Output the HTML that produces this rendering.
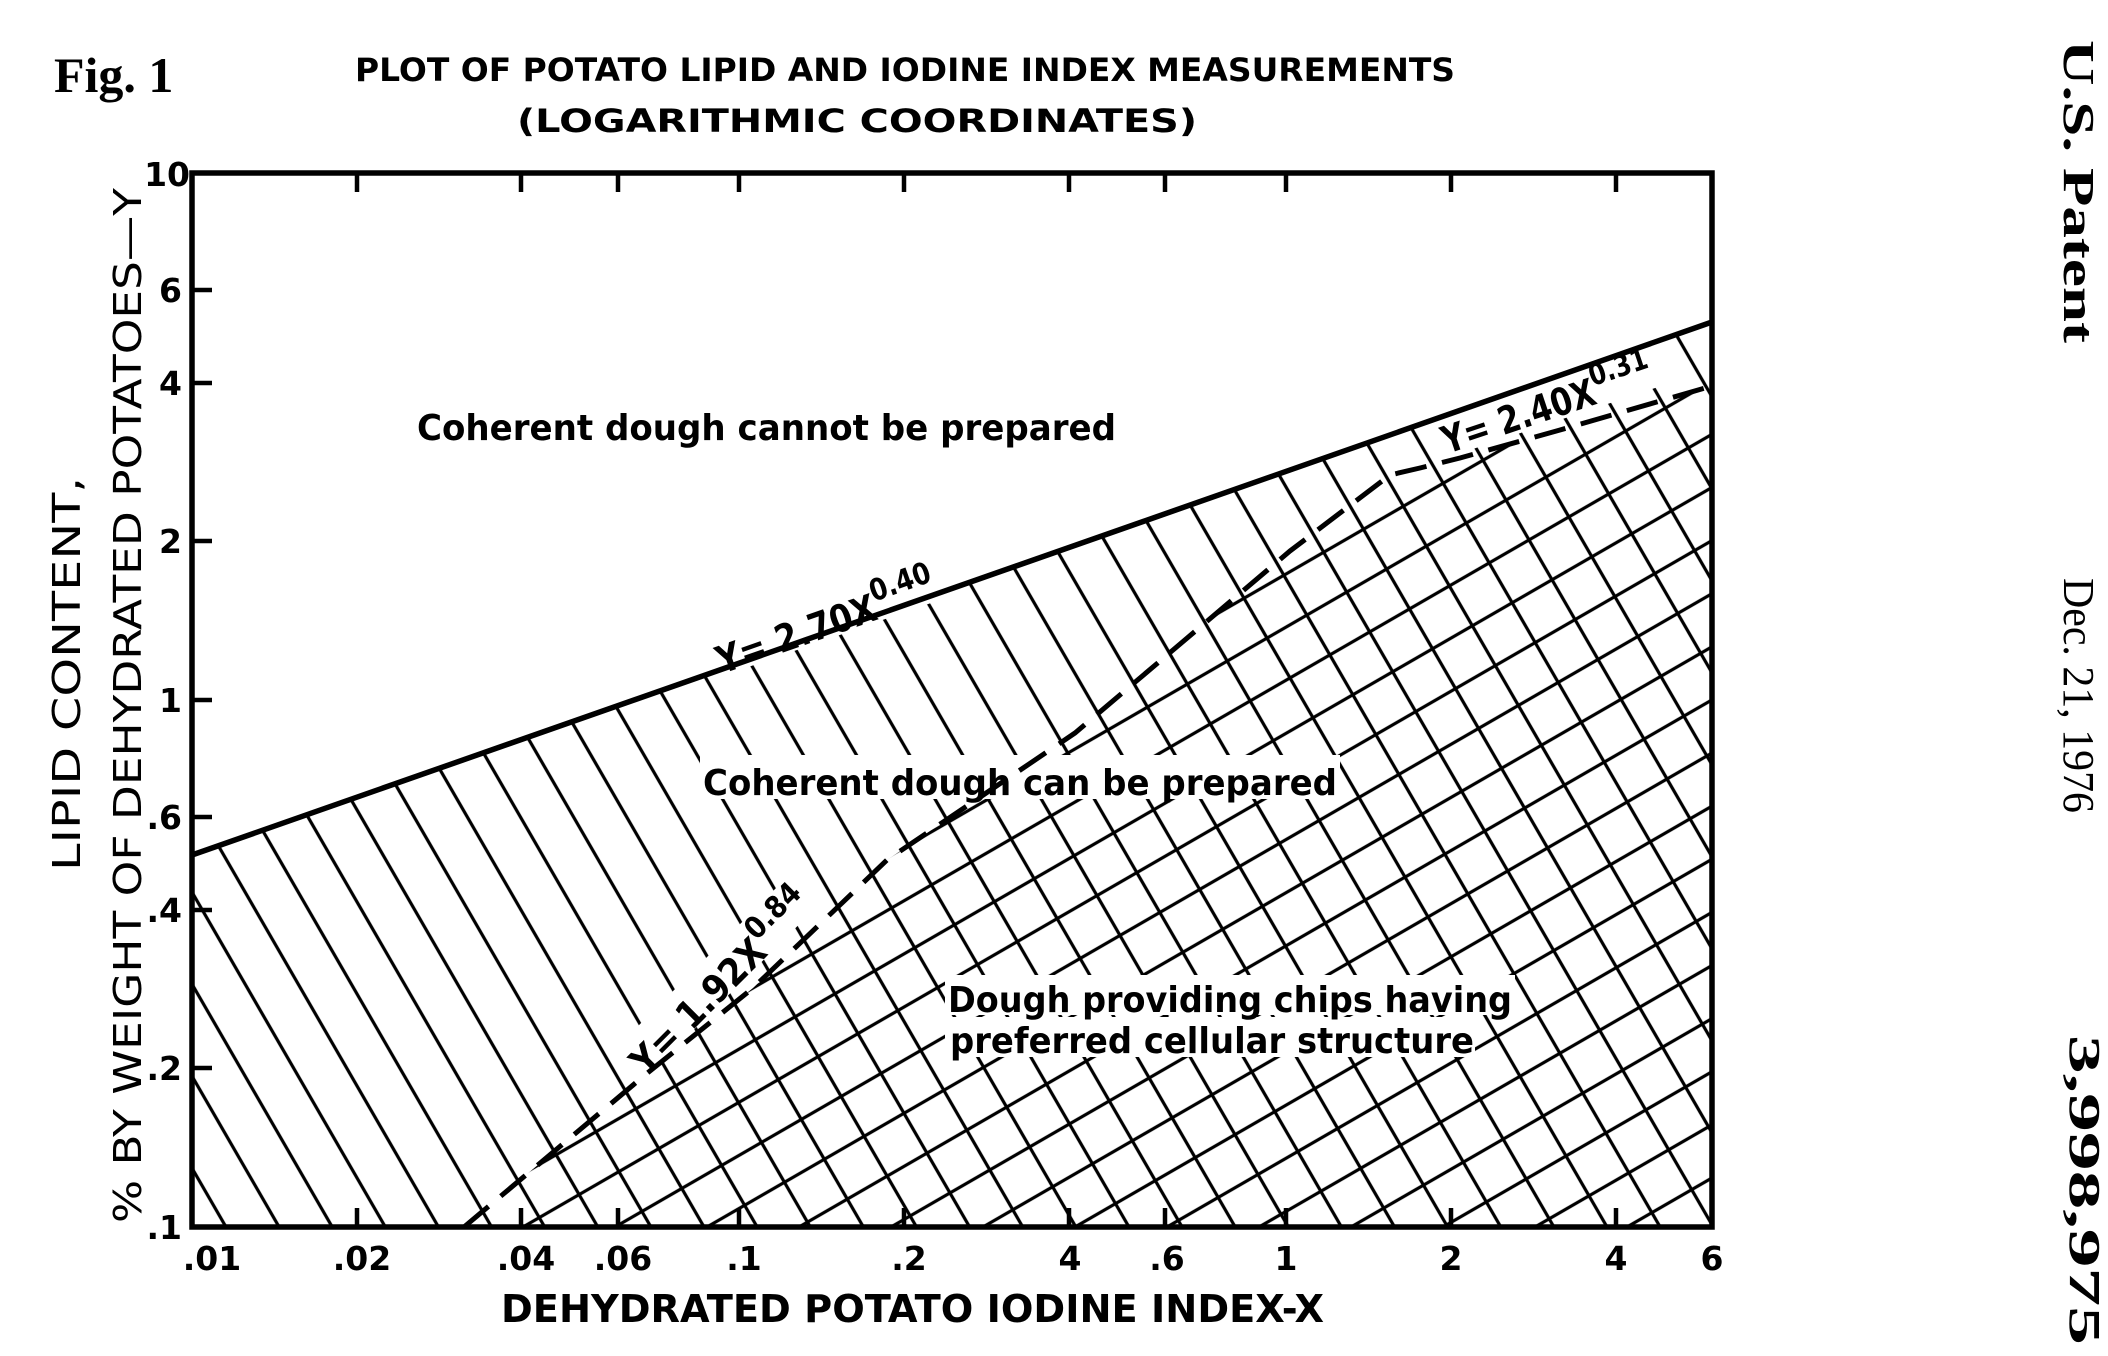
<!DOCTYPE html>
<html><head><meta charset="utf-8"><style>
html,body{margin:0;padding:0;background:#fff;}
svg{display:block;}
text{font-family:"DejaVu Sans","Liberation Sans",sans-serif;fill:#000;}
.b{font-weight:bold;}
.s{font-family:"Liberation Serif",serif;}
</style></head><body>
<svg width="2108" height="1356" viewBox="0 0 2108 1356" xmlns="http://www.w3.org/2000/svg">
<defs>
  <pattern id="back" patternUnits="userSpaceOnUse" width="46" height="400" patternTransform="translate(226,1227) rotate(-30) translate(-23,0)">
    <line x1="23" y1="0" x2="23" y2="400" stroke="#000" stroke-width="3.2"/>
  </pattern>
  <pattern id="fwd" patternUnits="userSpaceOnUse" width="46" height="400" patternTransform="translate(1627,1227) rotate(60) translate(-23,0)">
    <line x1="23" y1="0" x2="23" y2="400" stroke="#000" stroke-width="3.2"/>
  </pattern>
</defs>
<rect width="2108" height="1356" fill="#fff"/>
<polygon points="192,855 1712,322 1712,1227 192,1227" fill="url(#back)"/>
<polygon points="464,1227 645,1075 753,988 887,860 1075,733 1290,551 1390,475 1420,468 1460,458 1560,430 1712,386 1712,1227" fill="url(#fwd)"/>
<g fill="#fff">
  <rect x="700" y="755" width="640" height="44"/>
  <rect x="945" y="975" width="570" height="40"/>
  <rect x="945" y="1017" width="530" height="40"/>
  <rect x="0" y="-34" width="245" height="40" transform="translate(716,672) rotate(-19.3)"/>
  <rect x="0" y="-36" width="250" height="42" transform="translate(640,1075) rotate(-45)"/>
  <rect x="0" y="-34" width="225" height="40" transform="translate(1445,452) rotate(-18.5)"/>
</g>
<line x1="192" y1="855" x2="1712" y2="322" stroke="#000" stroke-width="5.5"/>
<polyline points="464,1227 645,1075 753,988 887,860 1075,733 1290,551 1390,475 1420,468 1460,458 1560,430 1712,386" fill="none" stroke="#000" stroke-width="5" stroke-dasharray="32,16"/>
<rect x="192" y="173" width="1520" height="1054" fill="none" stroke="#000" stroke-width="5.5"/>
<g stroke="#000" stroke-width="4.5">
  <line x1="357" y1="173" x2="357" y2="192"/><line x1="521" y1="173" x2="521" y2="192"/><line x1="618" y1="173" x2="618" y2="192"/>
  <line x1="739" y1="173" x2="739" y2="192"/><line x1="904" y1="173" x2="904" y2="192"/><line x1="1069" y1="173" x2="1069" y2="192"/>
  <line x1="1165" y1="173" x2="1165" y2="192"/><line x1="1286" y1="173" x2="1286" y2="192"/><line x1="1451" y1="173" x2="1451" y2="192"/>
  <line x1="1616" y1="173" x2="1616" y2="192"/>
  <line x1="357" y1="1227" x2="357" y2="1208"/><line x1="521" y1="1227" x2="521" y2="1208"/><line x1="618" y1="1227" x2="618" y2="1208"/>
  <line x1="739" y1="1227" x2="739" y2="1208"/><line x1="904" y1="1227" x2="904" y2="1208"/><line x1="1069" y1="1227" x2="1069" y2="1208"/>
  <line x1="1165" y1="1227" x2="1165" y2="1208"/><line x1="1286" y1="1227" x2="1286" y2="1208"/><line x1="1451" y1="1227" x2="1451" y2="1208"/>
  <line x1="1616" y1="1227" x2="1616" y2="1208"/>
  <line x1="192" y1="290" x2="212" y2="290"/><line x1="192" y1="383" x2="212" y2="383"/><line x1="192" y1="541" x2="212" y2="541"/>
  <line x1="192" y1="700" x2="212" y2="700"/><line x1="192" y1="817" x2="212" y2="817"/><line x1="192" y1="910" x2="212" y2="910"/>
  <line x1="192" y1="1068" x2="212" y2="1068"/>
</g>
<g font-size="33" text-anchor="end" class="b">
  <text x="190" y="186">10</text>
  <text x="182" y="302">6</text>
  <text x="182" y="395">4</text>
  <text x="182" y="553">2</text>
  <text x="182" y="712">1</text>
  <text x="182" y="829">.6</text>
  <text x="182" y="922">.4</text>
  <text x="182" y="1080">.2</text>
  <text x="182" y="1239">.1</text>
</g>
<g font-size="33" text-anchor="middle" class="b">
  <text x="212" y="1270">.01</text>
  <text x="362" y="1270">.02</text>
  <text x="526" y="1270">.04</text>
  <text x="623" y="1270">.06</text>
  <text x="744" y="1270">.1</text>
  <text x="909" y="1270">.2</text>
  <text x="1070" y="1270">4</text>
  <text x="1167" y="1270">.6</text>
  <text x="1286" y="1270">1</text>
  <text x="1451" y="1270">2</text>
  <text x="1616" y="1270">4</text>
  <text x="1712" y="1270">6</text>
</g>
<text x="54" y="92" class="s b" font-size="50">Fig. 1</text>
<text x="355" y="81" font-size="32" class="b" textLength="1100" lengthAdjust="spacingAndGlyphs">PLOT OF POTATO LIPID AND IODINE INDEX MEASUREMENTS</text>
<text x="517" y="132" font-size="32" class="b" textLength="680" lengthAdjust="spacingAndGlyphs">(LOGARITHMIC COORDINATES)</text>
<text x="501" y="1322" font-size="38" textLength="823" lengthAdjust="spacingAndGlyphs" style="font-weight:600">DEHYDRATED POTATO IODINE INDEX-X</text>
<text transform="translate(80,871) rotate(-90)" font-size="38" textLength="394" lengthAdjust="spacingAndGlyphs">LIPID CONTENT,</text>
<text transform="translate(141,1223) rotate(-90)" font-size="38" textLength="1035" lengthAdjust="spacingAndGlyphs">% BY WEIGHT OF DEHYDRATED POTATOES—Y</text>
<g font-size="36" style="font-weight:600">
  <text x="417" y="440" textLength="699" lengthAdjust="spacingAndGlyphs">Coherent dough cannot be prepared</text>
  <text x="703" y="795" textLength="634" lengthAdjust="spacingAndGlyphs">Coherent dough can be prepared</text>
  <text x="948" y="1012" textLength="564" lengthAdjust="spacingAndGlyphs">Dough providing chips having</text>
  <text x="950" y="1053" textLength="524" lengthAdjust="spacingAndGlyphs">preferred cellular structure</text>
</g>
<g font-size="38" style="font-weight:600">
  <text transform="translate(722,674) rotate(-19.3)" textLength="230" lengthAdjust="spacingAndGlyphs">Y= 2.70X<tspan dy="-18" font-size="30">0.40</tspan></text>
  <text transform="translate(646,1077) rotate(-45)" textLength="240" lengthAdjust="spacingAndGlyphs">Y= 1.92X<tspan dy="-18" font-size="30">0.84</tspan></text>
  <text transform="translate(1447,454) rotate(-18.5)" textLength="220" lengthAdjust="spacingAndGlyphs">Y= 2.40X<tspan dy="-18" font-size="30">0.31</tspan></text>
</g>
<g font-size="44" class="s">
  <text transform="translate(2064,40) rotate(90)" class="s b" textLength="303" lengthAdjust="spacingAndGlyphs">U.S. Patent</text>
  <text transform="translate(2064,578) rotate(90)" class="s" textLength="235" lengthAdjust="spacingAndGlyphs">Dec. 21, 1976</text>
  <text transform="translate(2070,1035) rotate(90)" class="s b" textLength="310" lengthAdjust="spacingAndGlyphs">3,998,975</text>
</g>
</svg>
</body></html>
